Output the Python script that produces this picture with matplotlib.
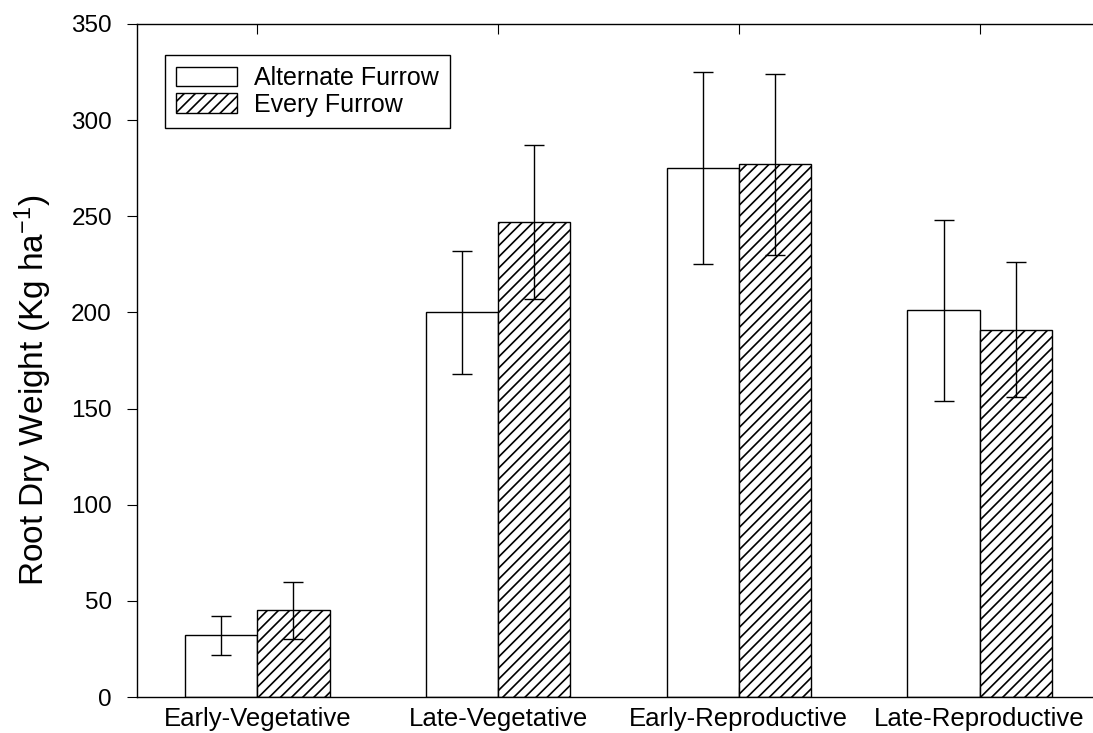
import numpy as np
import matplotlib
matplotlib.use("Agg")
import matplotlib.pyplot as plt

plt.rcParams['font.family'] = ['Liberation Sans', 'DejaVu Sans']
plt.rcParams['mathtext.default'] = 'regular'
plt.rcParams['hatch.linewidth'] = 1.2

# ---------------------- data ----------------------
stages = ["Early-Vegetative", "Late-Vegetative", "Early-Reproductive", "Late-Reproductive"]
alternate = [32, 200, 275, 201]
alternate_err = [10, 32, 50, 47]
every = [45, 247, 277, 191]
every_err = [15, 40, 47, 35]

# ---------------------- plot ----------------------
fig = plt.figure(figsize=(10.93, 7.33), dpi=100)
ax = fig.add_axes([0.1253, 0.0491, 0.8811, 0.9182])

x = np.arange(len(stages))
w = 0.3
ax.bar(x - w / 2, alternate, w, color='white', edgecolor='black', lw=1.0,
       label='Alternate Furrow')
ax.bar(x + w / 2, every, w, color='white', edgecolor='black', lw=1.0,
       hatch='///', label='Every Furrow')
ax.errorbar(x - w / 2, alternate, yerr=alternate_err, fmt='none', ecolor='black',
            elinewidth=1.0, capsize=7, capthick=1.0)
ax.errorbar(x + w / 2, every, yerr=every_err, fmt='none', ecolor='black',
            elinewidth=1.0, capsize=7, capthick=1.0)

ax.set_xlim(-0.5, 3.5)
ax.set_ylim(0, 350)
ax.set_yticks(range(0, 351, 50))
ax.set_xticks(x)
ax.set_xticklabels(stages, fontsize=18.5)
ax.tick_params(axis='x', direction='in', top=True, length=7, pad=7)
ax.tick_params(axis='y', direction='out', length=7, labelsize=17.5, pad=11)
ax.set_ylabel('Root Dry Weight (Kg ha$^{-1}$)', fontsize=24)
ax.yaxis.set_label_coords(-0.086, 0.455)

for s in ax.spines.values():
    s.set_linewidth(1.0)

ax.legend(loc='upper left', bbox_to_anchor=(0.029, 0.954), fontsize=18,
          frameon=True, fancybox=False, edgecolor='black', framealpha=1,
          handlelength=2.44, handleheight=0.8, handletextpad=0.68,
          labelspacing=0.1, borderpad=0.45, borderaxespad=0)

fig.savefig('out.png', dpi=100)
